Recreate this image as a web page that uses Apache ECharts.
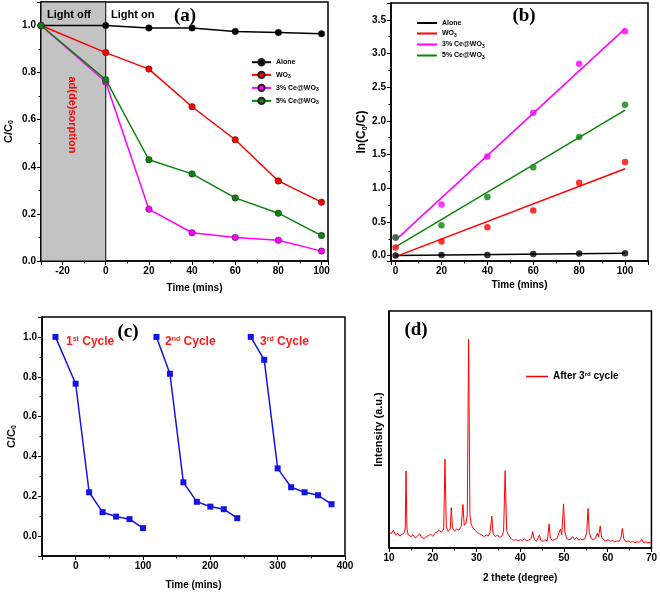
<!DOCTYPE html>
<html><head><meta charset="utf-8">
<script src="https://cdn.jsdelivr.net/npm/echarts@6/dist/echarts.min.js"></script>
<style>html,body{margin:0;padding:0;background:#fff}#c{width:660px;height:593px}</style>
</head><body><div id="c"></div>
<script>
// ---------- Panel (a): C/C0 vs time ----------
const timeA = [-30, 0, 20, 40, 60, 80, 100];
const aloneA = [1.0, 1.0, 0.99, 0.99, 0.975, 0.97, 0.965];
const wo3A = [1.0, 0.885, 0.815, 0.655, 0.515, 0.34, 0.25];
const ce3A = [1.0, 0.76, 0.22, 0.12, 0.1, 0.088, 0.042];
const ce5A = [1.0, 0.77, 0.43, 0.37, 0.268, 0.203, 0.108];
const darkPeriod = [-30, 0];

// ---------- Panel (b): ln(C0/C) vs time ----------
const timeB = [0, 20, 40, 60, 80, 100];
const aloneB = [0.0, 0.01, 0.01, 0.025, 0.03, 0.035];
const wo3B = [0.12, 0.21, 0.42, 0.67, 1.08, 1.39];
const ce3B = [0.27, 0.76, 1.47, 2.12, 2.85, 3.33];
const ce5B = [0.27, 0.45, 0.87, 1.31, 1.76, 2.24];
const fitTimeB = [0, 100];
const aloneFit = [0.0, 0.035];
const wo3Fit = [-0.015, 1.29];
const ce3Fit = [0.23, 3.37];
const ce5Fit = [0.13, 2.16];

// ---------- Panel (c): recycling ----------
const timeC1 = [-30, 0, 20, 40, 60, 80, 100];
const valsC1 = [1.0, 0.765, 0.22, 0.12, 0.098, 0.085, 0.04];
const timeC2 = [120, 140, 160, 180, 200, 220, 240];
const valsC2 = [1.0, 0.815, 0.27, 0.172, 0.148, 0.135, 0.09];
const timeC3 = [260, 280, 300, 320, 340, 360, 380];
const valsC3 = [1.0, 0.885, 0.34, 0.245, 0.22, 0.205, 0.16];

// ---------- Panel (d): XRD after 3rd cycle ----------
const xrdTheta = [10.0,10.5,11.0,11.5,12.0,12.5,13.0,13.5,13.7,13.9,14.1,14.4,15.0,15.5,16.0,16.5,17.0,17.5,18.0,18.5,19.0,19.5,20.0,20.5,21.0,21.5,22.0,22.5,22.8,23.1,23.5,24.0,24.25,24.5,25.0,25.5,26.0,26.5,26.9,27.2,27.6,27.9,28.2,28.5,28.8,29.2,29.7,30.2,30.7,31.2,31.7,32.2,32.7,33.1,33.5,33.8,34.3,34.8,35.3,35.8,36.2,36.55,36.9,37.3,37.6,38.0,38.5,39.0,39.5,40.0,40.5,41.0,41.5,42.0,42.5,42.85,43.2,43.7,44.0,44.4,44.7,45.2,45.7,46.2,46.6,46.9,47.4,47.9,48.4,48.9,49.2,49.5,49.9,50.2,50.6,51.1,51.6,52.0,52.4,52.9,53.3,53.8,54.3,54.8,55.2,55.5,55.8,56.2,56.7,57.2,57.6,57.9,58.3,58.6,59.1,59.6,60.1,60.6,61.1,61.6,62.1,62.6,63.0,63.35,63.7,64.2,64.7,65.2,65.7,66.2,66.7,67.2,67.8,68.2,68.7,69.2,69.6,70.0];
const xrdIntensity = [7.0,6.0,7.5,5.5,6.2,5.0,5.8,6.5,8.0,32.5,8.0,5.5,4.8,5.6,4.2,5.0,6.0,4.4,4.0,4.8,5.2,5.8,5.0,6.2,6.8,7.5,6.6,8.0,37.5,9.0,7.0,8.0,17.0,8.5,7.2,8.0,7.5,9.0,18.4,9.5,10.5,14.0,88.0,14.0,10.0,8.5,7.5,6.5,6.0,5.5,4.8,5.5,5.0,6.5,13.5,6.0,4.8,5.5,4.5,5.0,7.0,32.6,7.5,5.5,6.2,3.8,3.2,3.6,3.0,3.5,3.2,3.8,3.0,3.4,4.0,6.9,3.8,2.8,3.5,5.5,3.2,2.8,3.5,3.0,10.1,4.0,3.2,3.6,4.0,6.5,8.0,5.5,18.6,7.0,4.0,3.5,3.8,4.8,3.6,4.4,3.4,3.8,3.5,4.0,6.5,16.7,6.5,4.0,3.6,4.0,6.2,4.8,9.3,4.5,3.4,3.0,3.5,2.8,3.2,2.6,3.0,2.8,4.0,8.3,3.8,2.6,3.0,2.4,2.8,2.2,2.6,2.4,3.6,2.3,2.6,2.2,2.8,2.4];

// ---------- Names / colors ----------
const seriesNames = ['Alone', 'WO3', '3% Ce@WO3', '5% Ce@WO3'];
const seriesColors = ['#000000', '#ff0000', '#ff00ff', '#0a840a'];
const cycleLabels = ['1st Cycle', '2nd Cycle', '3rd Cycle'];

const SANS = '"Liberation Sans", Arial, sans-serif';
const SERIF = '"Liberation Serif", "Times New Roman", serif';
const zip = (xs, ys) => xs.map((x, i) => [x, ys[i]]);

function axis(extra) {
  const base = {
    axisLine: { show: true, onZero: false, lineStyle: { color: '#000', width: 1.5 } },
    axisTick: { show: true, length: 4, lineStyle: { color: '#000', width: 1 } },
    minorTick: { show: true, splitNumber: 2, length: 2.5, lineStyle: { color: '#000', width: 1 } },
    splitLine: { show: false },
    minorSplitLine: { show: false },
    axisLabel: { color: '#000', fontSize: 10, fontWeight: 'bold', fontFamily: SANS, margin: 5 },
    nameLocation: 'middle',
    nameTextStyle: { color: '#000', fontSize: 10, fontWeight: 'bold', fontFamily: SANS,
      rich: { s: { fontSize: 7, fontWeight: 'bold', fontFamily: SANS, padding: [6, 0, 0, 0] } } }
  };
  const out = Object.assign({}, base, extra);
  if (extra.axisLabel) out.axisLabel = Object.assign({}, base.axisLabel, extra.axisLabel);
  if (extra.nameTextStyle) out.nameTextStyle = Object.assign({}, base.nameTextStyle, extra.nameTextStyle);
  return out;
}
const fmt1 = v => v.toFixed(1);

const subFmt = n => n.replace('WO3', 'WO{s|3}');
const legendRich = { s: { fontSize: 5, fontWeight: 'bold', fontFamily: SANS, padding: [4, 0, 0, 0] } };

const gridStyle = { show: true, borderColor: '#000', borderWidth: 1.5, containLabel: false };

const series = [];
// (a)
[aloneA, wo3A, ce3A, ce5A].forEach((vals, i) => {
  const s = {
    name: seriesNames[i], type: 'line', xAxisIndex: 0, yAxisIndex: 0,
    data: zip(timeA, vals), symbol: 'circle', symbolSize: 6.5,
    color: seriesColors[i],
    lineStyle: { color: seriesColors[i], width: 1.5 },
    itemStyle: { color: seriesColors[i], borderColor: '#222', borderWidth: 0.5 },
    z: 3
  };
  if (i === 0) {
    s.markArea = {
      silent: true,
      itemStyle: { color: '#c3c3c3', borderColor: '#000', borderWidth: 1 },
      data: [[{ xAxis: darkPeriod[0] }, { xAxis: darkPeriod[1] }]]
    };
  }
  series.push(s);
});
// (b) scatter points
[aloneB, wo3B, ce3B, ce5B].forEach((vals, i) => {
  series.push({
    name: seriesNames[i], type: 'scatter', xAxisIndex: 1, yAxisIndex: 1,
    data: zip(timeB, vals), symbol: 'circle', symbolSize: 6.5,
    color: seriesColors[i],
    itemStyle: { color: seriesColors[i] }, z: 4
  });
});
// (b) linear fits
[aloneFit, wo3Fit, ce3Fit, ce5Fit].forEach((vals, i) => {
  series.push({
    name: seriesNames[i], type: 'line', xAxisIndex: 1, yAxisIndex: 1,
    data: zip(fitTimeB, vals), showSymbol: false, symbol: 'none',
    color: seriesColors[i],
    lineStyle: { color: seriesColors[i], width: 1.5 }, z: 3
  });
});
// (c)
[[timeC1, valsC1], [timeC2, valsC2], [timeC3, valsC3]].forEach(([t, v]) => {
  series.push({
    name: 'cycle', type: 'line', xAxisIndex: 2, yAxisIndex: 2,
    data: zip(t, v), symbol: 'rect', symbolSize: 6,
    color: '#1414e6',
    lineStyle: { color: '#1414e6', width: 1.5 },
    itemStyle: { color: '#1414e6' }
  });
});
// (d)
series.push({
  name: 'After 3rd cycle', type: 'line', xAxisIndex: 3, yAxisIndex: 3,
  data: zip(xrdTheta, xrdIntensity), showSymbol: false, symbol: 'none',
  color: '#ff0000', lineStyle: { color: '#ff0000', width: 1 }
});

const legendText = { color: '#000', fontSize: 7, fontWeight: 'bold', fontFamily: SANS, lineHeight: 8, rich: legendRich };

const option = {
  animation: false,
  backgroundColor: '#fff',
  grid: [
    Object.assign({ left: 41, top: 2, width: 287, height: 259 }, gridStyle),
    Object.assign({ left: 391, top: 3, width: 257, height: 258 }, gridStyle),
    Object.assign({ left: 42, top: 317, width: 303, height: 239 }, gridStyle),
    Object.assign({ left: 389, top: 311, width: 265, height: 237 }, gridStyle)
  ],
  xAxis: [
    axis({ gridIndex: 0, type: 'value', min: -30, max: 103, splitNumber: 7,
      axisLabel: { showMinLabel: false, showMaxLabel: false },
      name: 'Time (mins)', nameGap: 22, nameTextStyle: { padding: [0, 0, 0, 20] } }),
    axis({ gridIndex: 1, type: 'value', min: -2, max: 110, splitNumber: 5,
      axisLabel: { showMinLabel: false, showMaxLabel: false },
      name: 'Time (mins)', nameGap: 19 }),
    axis({ gridIndex: 2, type: 'value', min: -50, max: 400, splitNumber: 5,
      axisLabel: { showMinLabel: false },
      name: 'Time (mins)', nameGap: 24 }),
    axis({ gridIndex: 3, type: 'value', min: 10, max: 70, interval: 10,
      name: '2 thete (degree)', nameGap: 25 })
  ],
  yAxis: [
    axis({ gridIndex: 0, type: 'value', min: 0, max: 1.1, splitNumber: 5,
      axisLabel: { showMaxLabel: false, formatter: fmt1 },
      name: 'C/C{s|0}', nameGap: 26, nameTextStyle: { fontSize: 11 } }),
    axis({ gridIndex: 1, type: 'value', min: -0.08, max: 3.75, splitNumber: 8,
      axisLabel: { showMinLabel: false, showMaxLabel: false, formatter: fmt1 },
      name: 'ln(C{s|0}/C)', nameGap: 22, nameTextStyle: { fontSize: 12 } }),
    axis({ gridIndex: 2, type: 'value', min: -0.1, max: 1.1, splitNumber: 5,
      axisLabel: { showMinLabel: false, showMaxLabel: false, formatter: fmt1 },
      name: 'C/C{s|0}', nameGap: 24, nameTextStyle: { fontSize: 11 } }),
    axis({ gridIndex: 3, type: 'value', min: 0, max: 100,
      axisLabel: { show: false }, axisTick: { show: false }, minorTick: { show: false },
      name: 'Intensity (a.u.)', nameGap: 5, nameTextStyle: { fontSize: 11 } })
  ],
  legend: [
    { data: seriesNames, orient: 'vertical', left: 251, top: 58, padding: 0,
      itemWidth: 19, itemHeight: 8, itemGap: 4.3, selectedMode: false,
      formatter: subFmt, textStyle: legendText },
    { data: seriesNames.map((n, i) => ({ name: n, icon: 'rect',
        itemStyle: { color: seriesColors[i], borderWidth: 0, opacity: 1 } })),
      orient: 'vertical', left: 417, top: 19, padding: 0,
      itemWidth: 20, itemHeight: 2, itemGap: 2.5, selectedMode: false,
      formatter: subFmt, textStyle: legendText },
    { data: [{ name: 'After 3rd cycle', icon: 'rect', itemStyle: { color: '#ff0000', borderWidth: 0 } }],
      left: 526, top: 371, padding: 0,
      itemWidth: 22, itemHeight: 1.5, selectedMode: false,
      formatter: () => 'After 3{r|rd} cycle',
      textStyle: { color: '#000', fontSize: 10, fontWeight: 'bold', fontFamily: SANS,
        rich: { r: { fontSize: 6, fontWeight: 'bold', fontFamily: SANS, padding: [0, 0, 5, 0] } } } }
  ],
  graphic: [
    { type: 'text', z: 100, x: 47, y: 15, style: { text: 'Light off', font: 'bold 11px ' + SANS, fill: '#000', textVerticalAlign: 'middle' } },
    { type: 'text', z: 100, x: 111, y: 15, style: { text: 'Light on', font: 'bold 11px ' + SANS, fill: '#000', textVerticalAlign: 'middle' } },
    { type: 'text', z: 100, x: 185, y: 16, style: { text: '(a)', font: 'bold 19px ' + SERIF, fill: '#000', textAlign: 'center', textVerticalAlign: 'middle' } },
    { type: 'text', z: 100, x: 72, y: 115, rotation: -Math.PI / 2, style: { text: 'ad(de)sorption', font: 'bold 11px ' + SANS, fill: '#ff0000', textAlign: 'center', textVerticalAlign: 'middle' } },
    { type: 'text', z: 100, x: 524, y: 16, style: { text: '(b)', font: 'bold 19px ' + SERIF, fill: '#000', textAlign: 'center', textVerticalAlign: 'middle' } },
    { type: 'text', z: 100, x: 128, y: 332, style: { text: '(c)', font: 'bold 19px ' + SERIF, fill: '#000', textAlign: 'center', textVerticalAlign: 'middle' } },
    { type: 'text', z: 100, x: 416, y: 330, style: { text: '(d)', font: 'bold 19px ' + SERIF, fill: '#000', textAlign: 'center', textVerticalAlign: 'middle' } }
  ].concat(cycleLabels.map((lab, i) => {
    const m = lab.match(/^(\d)(st|nd|rd) (.*)$/);
    return { type: 'text', z: 100, x: [66, 165, 260][i], y: 342,
      style: { text: m[1] + '{p|' + m[2] + '} ' + m[3], fill: '#ff1a1a', fontSize: 12, fontWeight: 'bold', fontFamily: SANS,
        textVerticalAlign: 'middle',
        rich: { p: { fontSize: 7, fontWeight: 'bold', fontFamily: SANS, fill: '#ff1a1a', padding: [0, 0, 6, 0] } } } };
  })),
  series: series
};

const chart = echarts.init(document.getElementById('c'), null, { renderer: 'canvas' });
chart.setOption(option);
</script></body></html>
